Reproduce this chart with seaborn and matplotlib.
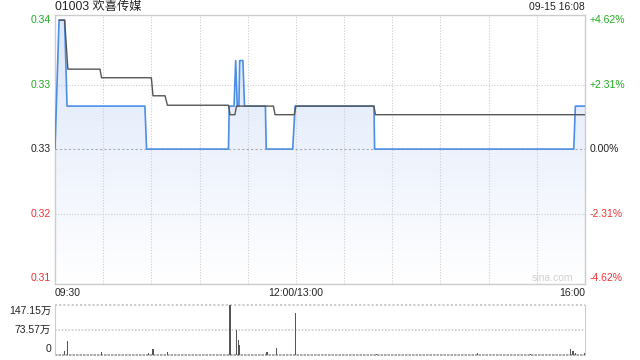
import numpy as np
import pandas as pd
import matplotlib
matplotlib.use("Agg")
import matplotlib.pyplot as plt
import seaborn as sns
from matplotlib.colors import LinearSegmentedColormap

# ---------------- data ----------------
title_text = "01003 欢喜传媒"
stamp_text = "09-15 16:08"
prev_close = 0.325

# price (minutes since 09:30, lunch removed)
price_min = [0, 2.5, 6, 7.5, 56, 57, 108, 108.5, 111.5, 112.5, 113.5, 114.5, 115, 117, 118, 131, 131.5,
             148, 149.5, 198.6, 199, 323, 324, 330]
price_val = [0.325, 0.340, 0.340, 0.330, 0.330, 0.325, 0.325, 0.330, 0.330, 0.3353, 0.330, 0.330, 0.3353,
             0.3353, 0.330, 0.330, 0.325, 0.325, 0.330, 0.330, 0.325, 0.325, 0.330, 0.330]

# average price
avg_min = [2.5, 6, 8, 28, 29, 60, 61, 68.5, 70, 108, 109, 112, 113, 136, 137, 149, 150, 198.6, 199.5, 330]
avg_val = [0.340, 0.340, 0.3343, 0.3343, 0.3333, 0.3333, 0.3312, 0.3312, 0.3301, 0.3301, 0.3290, 0.3290,
           0.3300, 0.3300, 0.3290, 0.3290, 0.3300, 0.3300, 0.3290, 0.3290]

# volume (万)
vol_min = [6, 8, 29, 58, 61, 70, 109, 113, 114, 115, 132, 138, 150, 200, 263, 296, 321, 322.5, 324, 330]
vol_val = [12, 41, 8, 5, 18, 9, 147.15, 75, 44, 29, 8, 20, 124, 4, 5, 3, 18, 12, 5, 5]

price_ticks = [0.31, 0.3175, 0.325, 0.3325, 0.34]
price_labels = ["0.31", "0.32", "0.33", "0.33", "0.34"]
pct_labels = ["-4.62%", "-2.31%", "0.00%", "+2.31%", "+4.62%"]
vol_ticks = [0, 73.57, 147.15]
vol_labels = ["0", "73.57万", "147.15万"]
x_labels = ["09:30", "12:00/13:00", "16:00"]
x_label_pos = [0, 150, 330]

# ---------------- style ----------------
sns.set_style("white")
plt.rcParams['font.family'] = ['Liberation Sans', 'Noto Sans CJK SC', 'DejaVu Sans']

GREEN = "#22aa22"
RED = "#ee3333"
BLUE = "#4a8ee8"
GRID = "#cccccc"
FS = 7.5

fig = plt.figure(figsize=(6.4, 3.6), dpi=100)
ax = fig.add_axes([55/640, 1-284/360, 530/640, 269/360])
axv = fig.add_axes([55/640, 1-355/360, 530/640, 50/360])

ymin, ymax = 0.3093, 0.3406
ax.set_xlim(0, 330)
ax.set_ylim(ymin, ymax)

# gradient fill under price
poly = ax.fill_between(price_min, price_val, ymin, color="none", lw=0)
grad = np.linspace(0, 1, 256).reshape(-1, 1)
cmap = LinearSegmentedColormap.from_list("g", ["#ffffff", "#dbe6fa"])
im = ax.imshow(grad, extent=[0, 330, ymin, ymax], origin="lower", aspect="auto", cmap=cmap, zorder=1)
im.set_clip_path(poly.get_paths()[0], transform=ax.transData)

# grid
for xm in range(30, 330, 30):
    ax.axvline(xm, color=GRID, lw=0.8, ls=(0, (1, 1.5)), zorder=2)
for yv in [0.3175, 0.3325]:
    ax.axhline(yv, color=GRID, lw=0.8, ls=(0, (1, 1.5)), zorder=2)
ax.axhline(prev_close, color="#aaaaaa", lw=0.8, ls=(0, (2, 2)), zorder=2)

df_p = pd.DataFrame({"t": price_min, "p": price_val})
df_a = pd.DataFrame({"t": avg_min, "p": avg_val})
sns.lineplot(data=df_p, x="t", y="p", ax=ax, color=BLUE, lw=1.2, estimator=None, sort=False, zorder=4)
sns.lineplot(data=df_a, x="t", y="p", ax=ax, color="#555555", lw=1.0, estimator=None, sort=False, zorder=5)

ax.set_xlabel("")
ax.set_ylabel("")
ax.set_xticks([])
ax.set_yticks([])
for s in ax.spines.values():
    s.set_color(GRID)
    s.set_linewidth(1)

# tick labels
for yv, lab, pl in zip(price_ticks, price_labels, pct_labels):
    if yv > prev_close + 1e-9:
        c = GREEN
    elif yv < prev_close - 1e-9:
        c = RED
    else:
        c = "#222222"
    ax.text(-2.5, yv, lab, ha="right", va="center", color=c, fontsize=FS, clip_on=False)
    ax.text(333, yv, pl, ha="left", va="center", color=c, fontsize=FS, clip_on=False)

for xp, lab in zip(x_label_pos, x_labels):
    ha = "left" if xp == 0 else ("right" if xp == 330 else "center")
    ax.text(xp, ymin - 0.0005, lab, ha=ha, va="top", fontsize=FS, color="#222222", clip_on=False)

fig.text(55/640, 1-7/360, title_text, ha="left", va="center", fontsize=8.8, color="#222222")
fig.text(585/640, 1-7/360, stamp_text, ha="right", va="center", fontsize=FS, color="#222222")
ax.text(0.977, 0.005, "sina.com", transform=ax.transAxes, ha="right", va="bottom", fontsize=FS, color="#d0d0d0")

# volume
axv.set_xlim(0, 330)
axv.set_ylim(0, 147.15)
axv.bar(vol_min, vol_val, width=0.7, color="#555555", edgecolor="none", linewidth=0, zorder=3)
axv.axhline(73.57, color=GRID, lw=1.2, ls=(0, (1, 1)), zorder=1)
axv.axhline(147.15, color=GRID, lw=1.5, ls=(0, (1, 1)), zorder=1, clip_on=False)
axv.axhline(0, color="#999999", lw=1.2, ls=(0, (1.5, 0.6)), zorder=2, clip_on=False)
axv.set_xticks([])
axv.set_yticks([])
axv.spines["top"].set_visible(False)
axv.spines["bottom"].set_visible(False)
axv.spines["left"].set_color(GRID)
axv.spines["right"].set_color(GRID)
for yv, lab in zip(vol_ticks, vol_labels):
    off = {0: 18, 73.57: 0, 147.15: -17}[yv]
    axv.text(-2.5, yv + off, lab, ha="right", va="center", fontsize=FS, color="#222222", clip_on=False)

fig.savefig("out.png", dpi=100)
